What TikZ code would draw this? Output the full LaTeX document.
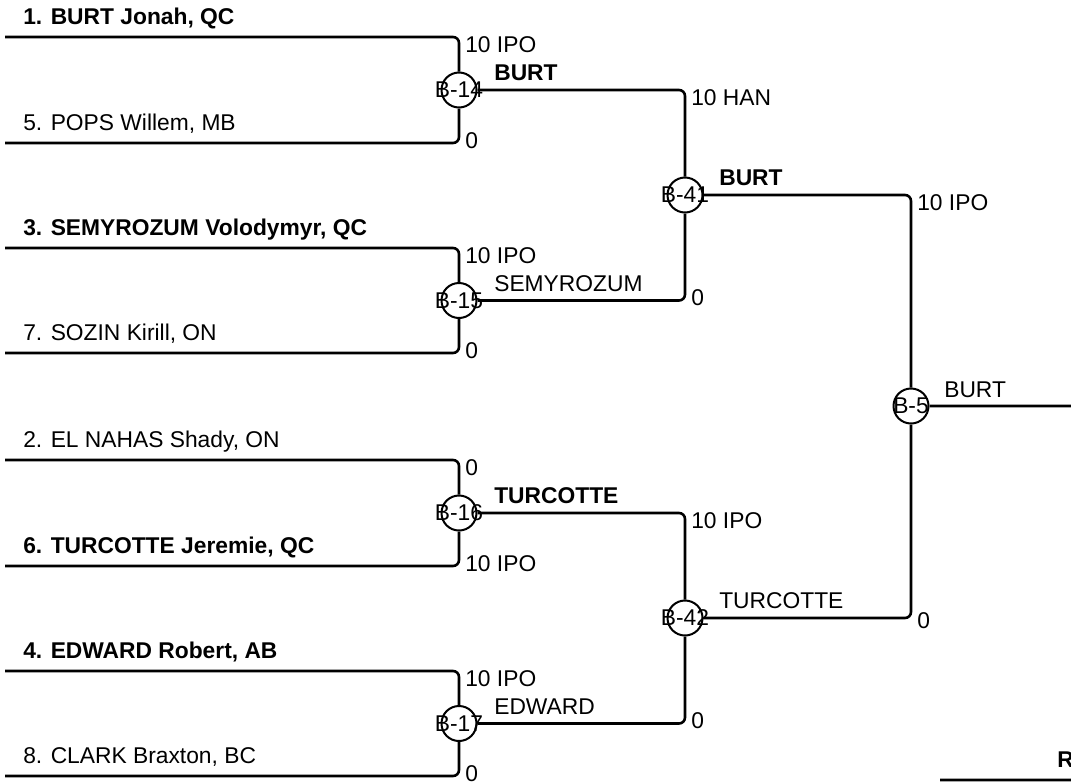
\documentclass[tikz,border=0pt]{standalone}
\usepackage{fontspec}
\setmainfont{Liberation Sans}
\usepackage{tikz}
\usetikzlibrary{arrows}

\begin{document}
\begin{tikzpicture}[
                            x=1pt,
                            y=-1pt,
                            line width=2.6pt,
                            rounded corners=6pt,
                            font=\fontsize{22.8}{27}\selectfont,
                            every node/.style={inner sep=0pt}
                        ]
                        \tikzstyle{match}=[circle,draw=black,line width=2pt,minimum size=35pt]
                        \tikzstyle{player}=[anchor=base west]
                        \tikzstyle{score}=[anchor=base west]
                        \tikzstyle{winner}=[anchor=base west]
                        \tikzstyle{seed}=[font=\fontsize{22.8}{27}\selectfont\bfseries]

                        \useasboundingbox (0,0) rectangle (1071,782);

                        % matches
                        \node[match,label=center:{B-14}] (m14) at (459,90)    {};
                        \node[match,label=center:{B-15}] (m15) at (459,300.5) {};
                        \node[match,label=center:{B-16}] (m16) at (459,513)   {};
                        \node[match,label=center:{B-17}] (m17) at (459,723.5) {};
                        \node[match,label=center:{B-41}] (m41) at (685,195)   {};
                        \node[match,label=center:{B-42}] (m42) at (685,618)   {};
                        \node[match,label=center:{B-5}]  (m5)  at (911,406)   {};

                        % line ends
                        \coordinate (p1) at (5,37);
                        \coordinate (p5) at (5,143);
                        \coordinate (p3) at (5,248);
                        \coordinate (p7) at (5,353);
                        \coordinate (p2) at (5,460);
                        \coordinate (p6) at (5,566);
                        \coordinate (p4) at (5,671);
                        \coordinate (p8) at (5,776);
                        \coordinate (fin) at (1071,406);
                        \coordinate (r0) at (940,780);
                        \coordinate (r1) at (1071,780);

                        % players
                        \node[player,seed] (n1) at (22,24)  {1. BURT Jonah, QC};
                        \node[player]      (n5) at (22,130) {5. POPS Willem, MB};
                        \node[player,seed] (n3) at (22,235) {3. SEMYROZUM Volodymyr, QC};
                        \node[player]      (n7) at (22,340) {7. SOZIN Kirill, ON};
                        \node[player]      (n2) at (22,447) {2. EL NAHAS Shady, ON};
                        \node[player,seed] (n6) at (22,553) {6. TURCOTTE Jeremie, QC};
                        \node[player,seed] (n4) at (22,658) {4. EDWARD Robert, AB};
                        \node[player]      (n8) at (22,763) {8. CLARK Braxton, BC};

                        % scores
                        \node[score] (s14a) at (464,52)  {10 IPO};
                        \node[score] (s14b) at (464,148) {0};
                        \node[score] (s15a) at (464,263) {10 IPO};
                        \node[score] (s15b) at (464,358) {0};
                        \node[score] (s16a) at (464,475) {0};
                        \node[score] (s16b) at (464,571) {10 IPO};
                        \node[score] (s17a) at (464,686) {10 IPO};
                        \node[score] (s17b) at (464,781) {0};
                        \node[score] (s41a) at (690,105) {10 HAN};
                        \node[score] (s41b) at (690,305) {0};
                        \node[score] (s42a) at (690,528) {10 IPO};
                        \node[score] (s42b) at (690,728) {0};
                        \node[score] (s5a)  at (916,210) {10 IPO};
                        \node[score] (s5b)  at (916,628) {0};

                        % winners
                        \node[winner,seed] (w14) at (493,80)  {BURT};
                        \node[winner]      (w15) at (493,291) {SEMYROZUM};
                        \node[winner,seed] (w16) at (493,503) {TURCOTTE};
                        \node[winner]      (w17) at (493,714) {EDWARD};
                        \node[winner,seed] (w41) at (718,185) {BURT};
                        \node[winner]      (w42) at (718,608) {TURCOTTE};
                        \node[winner]      (w5)  at (943,397) {BURT};
                        \node[winner,seed] (rr)  at (1056,767) {R};

                        \draw
                        (p1) -| (m14)
                        (p5) -| (m14)
                        (p3) -| (m15)
                        (p7) -| (m15)
                        (p2) -| (m16)
                        (p6) -| (m16)
                        (p4) -| (m17)
                        (p8) -| (m17)
                        (m14) -| (m41)
                        (m15) -| (m41)
                        (m16) -| (m42)
                        (m17) -| (m42)
                        (m41) -| (m5)
                        (m42) -| (m5)
                        (m5) -- (fin)
                        (r0) -- (r1)
                        ;
                    \end{tikzpicture}
\end{document}
